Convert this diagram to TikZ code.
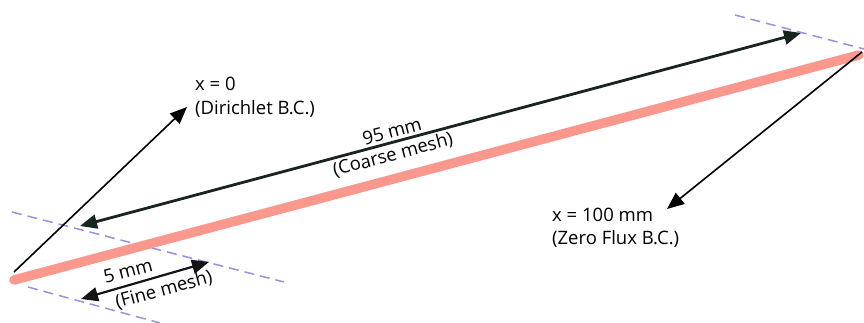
\documentclass[tikz,border=0pt]{standalone}
\usepackage{fontspec}
\setmainfont{Open Sans}
\usetikzlibrary{arrows.meta}
\definecolor{salmon}{RGB}{250,152,142}
\definecolor{lav}{RGB}{150,145,220}
\definecolor{darkarrow}{RGB}{24,36,32}
\tikzset{
  rod/.style={salmon, line width=9.5pt, line cap=round},
  guide/.style={lav, line width=1.5pt, dash pattern=on 10pt off 6pt},
  bigtip/.style={-{Triangle[length=17pt,width=14pt]}},
  dimtip/.style={{Triangle[length=17pt,width=14pt]}-{Triangle[length=17pt,width=14pt]}},
  lbl/.style={font=\fontsize{18.5}{21}\selectfont, inner sep=0pt},
}
\begin{document}
\begin{tikzpicture}[x=1pt,y=-1pt]
\useasboundingbox (0,0) rectangle (864,322);
% guides
\coordinate (g1a) at (12,212); \coordinate (g1b) at (284,282);
\coordinate (g2a) at (28,287); \coordinate (g2b) at (160,323);
\coordinate (g3a) at (735,15); \coordinate (g3b) at (864,49);
\draw[guide] (g1a) -- (g1b);
\draw[guide] (g2a) -- (g2b);
\draw[guide] (g3a) -- (g3b);
% rod
\coordinate (r0) at (14,280); \coordinate (r1) at (859,55);
\draw[rod] (r0) -- (r1);
% boundary arrows
\coordinate (d0) at (14,272); \coordinate (d1) at (187,107);
\draw[bigtip, line width=1.6pt, black] (d0) -- (d1);
\coordinate (z0) at (862,52); \coordinate (z1) at (667,209);
\draw[bigtip, line width=1.6pt, black] (z0) -- (z1);
% dimension arrows
\coordinate (c0) at (80,226); \coordinate (c1) at (801,33);
\draw[dimtip, line width=2.8pt, darkarrow] (c0) -- (c1);
\coordinate (f0) at (81,299); \coordinate (f1) at (209,262);
\draw[dimtip, line width=2.2pt, black!92] (f0) -- (f1);
% labels
\node[lbl, anchor=base west] (tx0) at (195,90) {x = 0};
\node[lbl, anchor=base west] (tdir) at (195,114) {(Dirichlet B.C.)};
\node[lbl, anchor=base west] (tx100) at (552,221) {x = 100 mm};
\node[lbl, anchor=base west] (tzf) at (552,244) {(Zero Flux B.C.)};
\node[lbl, rotate=15] (t95) at (392,131) {95 mm};
\node[lbl, rotate=15] (tcm) at (393,155) {(Coarse mesh)};
\node[lbl, rotate=15] (t5) at (128,271) {5 mm};
\node[lbl, rotate=15] (tfm) at (164,290) {(Fine mesh)};
\end{tikzpicture}
\end{document}
